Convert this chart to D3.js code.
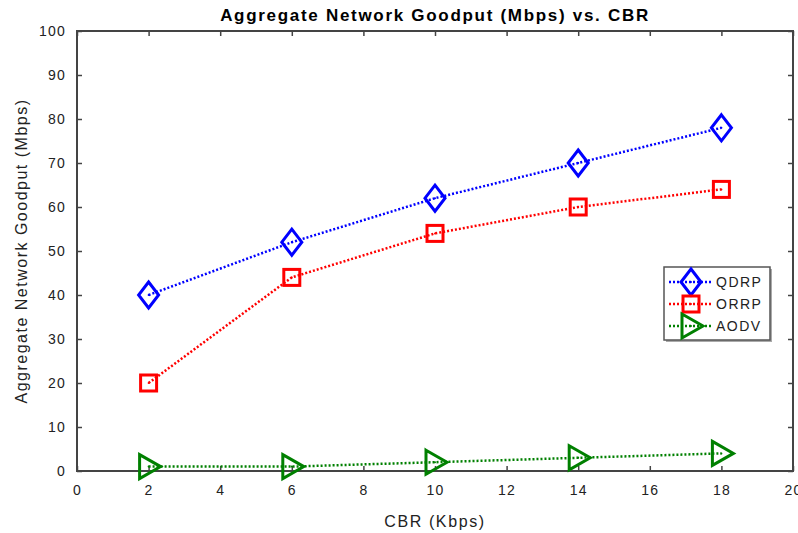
<!DOCTYPE html>
<html>
<head>
<meta charset="utf-8">
<script src="https://cdn.jsdelivr.net/npm/d3@7"></script>
<style>
  body { margin: 0; background: #fff; }
  svg { display: block; font-family: "Liberation Sans", Arial, sans-serif; }
</style>
</head>
<body>
<div id="chart"></div>
<script>
// data
const cbr = [2, 6, 10, 14, 18];
const qdrp = [40, 52, 62, 70, 78];
const orrp = [20, 44, 54, 60, 64];
const aodv = [1, 1, 2, 3, 4];
const xTicks = [0, 2, 4, 6, 8, 10, 12, 14, 16, 18, 20];
const yTicks = [0, 10, 20, 30, 40, 50, 60, 70, 80, 90, 100];

const width = 798;
const height = 533;
const margin = {left: 77, right: 5, top: 31, bottom: 62};

const series = [
  {name: "QDRP", values: qdrp, color: "#0000ff", marker: "diamond"},
  {name: "ORRP", values: orrp, color: "#ff0000", marker: "square"},
  {name: "AODV", values: aodv, color: "#008000", marker: "triangle"}
];

const svg = d3.select("#chart")
  .append("svg")
  .attr("width", width)
  .attr("height", height);

const x = d3.scaleLinear().domain([0, 20]).range([margin.left, width - margin.right]);
const y = d3.scaleLinear().domain([0, 100]).range([height - margin.bottom, margin.top]);

// axes: ticks pointing in, on all four sides
const axisColor = "#444";
const styleAxis = g => {
  g.select(".domain").remove();
  g.selectAll(".tick line").attr("stroke", axisColor).attr("stroke-width", 1.5);
  g.selectAll(".tick text").attr("fill", "#222").attr("font-size", 14).attr("letter-spacing", 1.2);
};

svg.append("g")
  .attr("transform", `translate(0,${y(0)})`)
  .call(d3.axisBottom(x).tickValues(xTicks).tickSize(-5).tickPadding(14))
  .call(styleAxis);

svg.append("g")
  .attr("transform", `translate(${x(0)},0)`)
  .call(d3.axisLeft(y).tickValues(yTicks).tickSize(-5).tickPadding(11))
  .call(styleAxis);

svg.append("g")
  .attr("transform", `translate(0,${y(100)})`)
  .call(d3.axisTop(x).tickValues(xTicks).tickSize(-5).tickFormat(""))
  .call(styleAxis);

svg.append("g")
  .attr("transform", `translate(${x(20)},0)`)
  .call(d3.axisRight(y).tickValues(yTicks).tickSize(-5).tickFormat(""))
  .call(styleAxis);

// plot box
svg.append("rect")
  .attr("x", x(0))
  .attr("y", y(100))
  .attr("width", x(20) - x(0))
  .attr("height", y(0) - y(100))
  .attr("fill", "none")
  .attr("stroke", axisColor)
  .attr("stroke-width", 2);

// marker shapes
function drawMarker(g, type, color, cx, cy) {
  if (type === "diamond") {
    g.append("path")
      .attr("d", `M${cx},${cy - 13}L${cx + 10},${cy}L${cx},${cy + 13}L${cx - 10},${cy}Z`)
      .attr("fill", "none").attr("stroke", color).attr("stroke-width", 3);
  } else if (type === "square") {
    g.append("rect")
      .attr("x", cx - 8).attr("y", cy - 8).attr("width", 16).attr("height", 16)
      .attr("fill", "none").attr("stroke", color).attr("stroke-width", 3);
  } else {
    g.append("path")
      .attr("d", `M${cx - 9},${cy - 12}L${cx + 12},${cy}L${cx - 9},${cy + 12}Z`)
      .attr("fill", "none").attr("stroke", color).attr("stroke-width", 3);
  }
  g.append("circle").attr("cx", cx).attr("cy", cy).attr("r", 1).attr("fill", color);
}

const line = d3.line()
  .x((d, i) => x(cbr[i]))
  .y(d => y(d));

series.forEach(s => {
  const g = svg.append("g");
  g.append("path")
    .datum(s.values)
    .attr("d", line)
    .attr("fill", "none")
    .attr("stroke", s.color)
    .attr("stroke-width", 2.5)
    .attr("stroke-dasharray", "2,2");
  s.values.forEach((v, i) => drawMarker(g, s.marker, s.color, x(cbr[i]), y(v)));
});

// title and labels
svg.append("text")
  .attr("x", (x(0) + x(20)) / 2)
  .attr("y", 21)
  .attr("text-anchor", "middle")
  .attr("font-size", 17)
  .attr("font-weight", "bold")
  .attr("letter-spacing", 1.7)
  .text("Aggregate Network Goodput (Mbps) vs. CBR");

svg.append("text")
  .attr("x", (x(0) + x(20)) / 2)
  .attr("y", 527)
  .attr("text-anchor", "middle")
  .attr("font-size", 16)
  .attr("letter-spacing", 1.6)
  .attr("fill", "#222")
  .text("CBR (Kbps)");

svg.append("text")
  .attr("transform", `translate(27,${(y(0) + y(100)) / 2}) rotate(-90)`)
  .attr("text-anchor", "middle")
  .attr("font-size", 16)
  .attr("letter-spacing", 1.5)
  .attr("fill", "#222")
  .text("Aggregate Network Goodput (Mbps)");

// legend
const legend = svg.append("g").attr("transform", "translate(664,267)");
legend.append("rect")
  .attr("x", 2).attr("y", 2).attr("width", 106).attr("height", 73)
  .attr("fill", "#aaa");
legend.append("rect")
  .attr("width", 106).attr("height", 73)
  .attr("fill", "#fff").attr("stroke", "#555").attr("stroke-width", 1.5);

series.forEach((s, i) => {
  const cy = 15 + i * 22;
  legend.append("line")
    .attr("x1", 5).attr("x2", 48).attr("y1", cy).attr("y2", cy)
    .attr("stroke", s.color).attr("stroke-width", 2.5).attr("stroke-dasharray", "2,2");
  drawMarker(legend, s.marker, s.color, 27, cy);
  legend.append("text")
    .attr("x", 52).attr("y", cy + 5)
    .attr("font-size", 14)
    .attr("letter-spacing", 1.5)
    .attr("fill", "#222")
    .text(s.name);
});
</script>
</body>
</html>
